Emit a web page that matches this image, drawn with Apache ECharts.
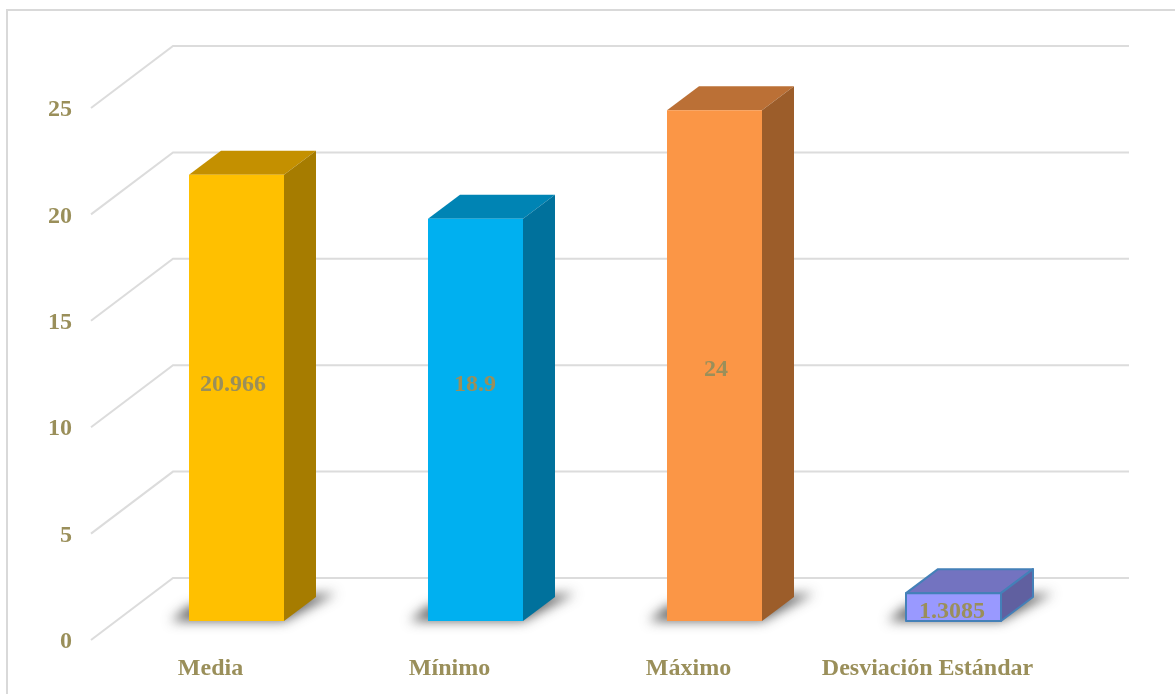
<!DOCTYPE html>
<html>
<head>
<meta charset="utf-8">
<style>html,body{margin:0;padding:0;background:#fff}#chart{width:1175px;height:694px}</style>
<script src="https://cdn.jsdelivr.net/npm/echarts@6/dist/echarts.min.js"></script>
</head>
<body>
<div id="chart"></div>
<script>
// Summary statistics
const categories = ['Media', 'Mínimo', 'Máximo', 'Desviación Estándar'];
const values = [20.966, 18.9, 24, 1.3085];
const gridTicks = [0, 5, 10, 15, 20, 25];

// Face colours of each box: front, top, side
const faces = [
  ['#FFC000', '#C49000', '#A67C00'],
  ['#00B0F0', '#0084B4', '#00719C'],
  ['#FB9646', '#BB7036', '#9C5D2A'],
  ['#9999FF', '#7373C0', '#6060A0']
];
// Placement of the value labels relative to the box: pixels above the base, pixels off centre
const labelLift = [236, 236, 251, 9];
const labelShift = [-3.5, -0.5, 1.5, -1.5];

const TEXT = '#9A8F5A';
const FONT = '"Liberation Serif", serif';
const WALL_DX = 82, WALL_DY = -62;       // depth of the floor and side wall
const BAR_DX = 26, BAR_DY = -19;         // front face of a box, measured from the front plane
const BOX_DX = 32, BOX_DY = -24;         // depth of a box
const BAR_W = 95;
const SHADOW_SHIFT = 3000;               // the caster sits off canvas so that only its blur shows

function poly(points, fill, extra) {
  return { type: 'polygon', shape: { points }, style: Object.assign({ fill }, extra || {}) };
}

function renderGridLine(params, api) {
  const v = api.value(0);
  const y = api.coord([0, v])[1];
  const x0 = params.coordSys.x;
  const x1 = x0 + params.coordSys.width;
  return {
    type: 'polyline',
    shape: { points: [[x0, y], [x0 + WALL_DX, y + WALL_DY], [x1 + WALL_DX, y + WALL_DY]] },
    style: { stroke: '#DCDCDC', lineWidth: 2, fill: null }
  };
}

// Soft contact shadow on the floor around the foot of a box
function renderShadow(params, api) {
  const i = api.value(0);
  const base = api.coord([i, 0]);
  const l = base[0] + BAR_DX - BAR_W / 2, r = l + BAR_W, b = base[1] + BAR_DY;
  const pts = [
    [l - 18, b], [r, b], [r + BOX_DX + 20, b + BOX_DY - 4],
    [r, b + BOX_DY], [l, b - 15]
  ].map(p => [p[0] - SHADOW_SHIFT, p[1]]);
  return poly(pts, '#000', {
    shadowBlur: 12,
    shadowOffsetX: SHADOW_SHIFT,
    shadowColor: 'rgba(85,85,85,0.9)'
  });
}

function renderBox(params, api) {
  const i = api.value(0);
  const base = api.coord([i, 0]);
  const top = api.coord([i, api.value(1)]);
  const l = base[0] + BAR_DX - BAR_W / 2, r = l + BAR_W;
  const b = base[1] + BAR_DY, t = top[1] + BAR_DY;
  const c = faces[i];
  const outline = i === 3 ? { stroke: '#4480B8', lineWidth: 2, lineJoin: 'round' } : {};
  return {
    type: 'group',
    children: [
      poly([[l, t], [l + BOX_DX, t + BOX_DY], [r + BOX_DX, t + BOX_DY], [r, t]], c[1], outline),
      poly([[r, t], [r + BOX_DX, t + BOX_DY], [r + BOX_DX, b + BOX_DY], [r, b]], c[2], outline),
      poly([[l, t], [r, t], [r, b], [l, b]], c[0], outline),
      {
        type: 'text',
        x: (l + r) / 2 + labelShift[i],
        y: b - labelLift[i],
        style: {
          text: String(api.value(1)),
          fill: TEXT,
          font: 'bold 24px ' + FONT,
          align: 'center',
          verticalAlign: 'middle'
        }
      }
    ]
  };
}

const chart = echarts.init(document.getElementById('chart'), null, { renderer: 'canvas' });
chart.setOption({
  animation: false,
  backgroundColor: '#FFFFFF',
  graphic: [{
    type: 'rect', silent: true, z: -1,
    shape: { x: 7, y: 10, width: 1200, height: 720 },
    style: { fill: '#FFFFFF', stroke: '#D9D9D9', lineWidth: 2 }
  }],
  grid: { left: 91, top: 108, width: 956, height: 532 },
  xAxis: {
    type: 'category',
    data: categories,
    axisLine: { show: false },
    axisTick: { show: false },
    splitLine: { show: false },
    axisLabel: {
      interval: 0, margin: 17, color: TEXT,
      fontFamily: FONT, fontWeight: 'bold', fontSize: 24
    }
  },
  yAxis: {
    type: 'value',
    min: 0, max: 25, interval: 5,
    axisLine: { show: false },
    axisTick: { show: false },
    splitLine: { show: false },
    axisLabel: {
      margin: 19,
      formatter: '{n|{value}}',
      rich: {
        n: {
          color: TEXT, padding: [4, 0, 0, 0],
          fontFamily: FONT, fontWeight: 'bold', fontSize: 24
        }
      }
    }
  },
  series: [
    {
      type: 'custom', name: 'grid', coordinateSystem: 'cartesian2d', silent: true, z: 1, clip: false,
      renderItem: renderGridLine,
      encode: { x: -1, y: 0 },
      data: gridTicks.map(v => [v])
    },
    {
      type: 'custom', name: 'shadow', silent: true, z: 2, clip: false,
      renderItem: renderShadow,
      encode: { x: 0, y: 1 },
      data: values.map((v, i) => [i, v])
    },
    {
      type: 'custom', name: 'boxes', z: 3, clip: false,
      renderItem: renderBox,
      encode: { x: 0, y: 1 },
      data: values.map((v, i) => [i, v])
    }
  ]
});
</script>
</body>
</html>
